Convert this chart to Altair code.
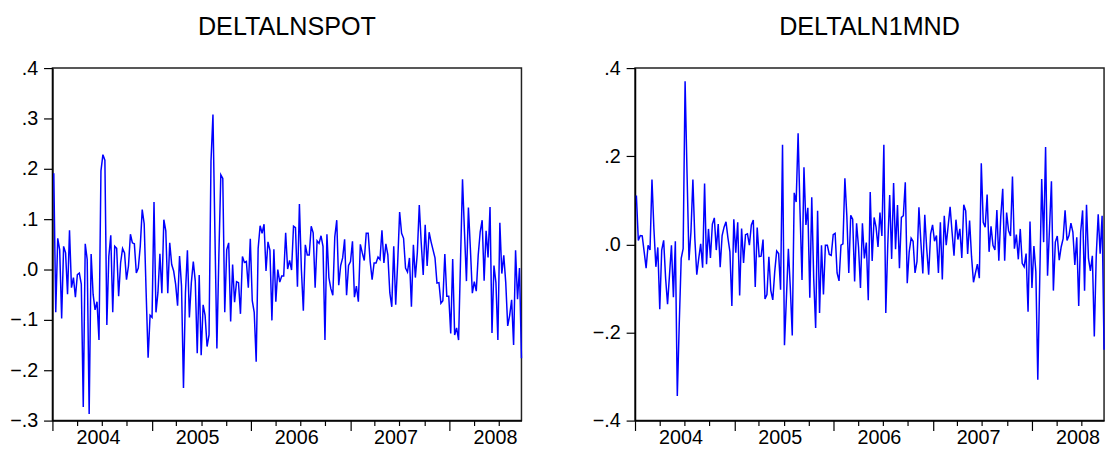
import altair as alt
import pandas as pd

# ---- data (weekly changes) ----
spot = [0.191, -0.085, 0.062, 0.039, -0.097, 0.046, 0.033, -0.049, 0.078, -0.036,
        -0.016, -0.055, -0.010, -0.007, -0.029, -0.273, 0.051, 0.020, -0.287, 0.031,
        -0.049, -0.080, -0.064, -0.140, 0.196, 0.228, 0.217, -0.110, 0.026, 0.068,
        -0.085, 0.046, 0.042, -0.053, 0.013, 0.042, 0.033, -0.020, 0.007, 0.070,
        0.053, 0.051, -0.007, 0.003, 0.046, 0.119, 0.091, -0.046, -0.175, -0.091,
        -0.095, 0.134, -0.085, -0.046, 0.031, -0.047, 0.099, 0.077, -0.047, 0.053,
        0.010, -0.003, -0.029, -0.072, 0.027, -0.033, -0.235, -0.046, 0.038, -0.095,
        -0.026, 0.016, -0.023, -0.166, -0.011, -0.170, -0.070, -0.091, -0.153, -0.130,
        0.215, 0.308, 0.072, -0.157, 0.026, 0.188, 0.181, -0.085, 0.039, 0.053,
        -0.103, 0.010, -0.065, -0.024, -0.026, -0.088, 0.026, 0.014, 0.016, -0.036,
        0.061, -0.062, -0.085, -0.183, 0.042, 0.087, 0.072, 0.090, -0.003, 0.055,
        0.038, -0.101, 0.040, -0.064, 0.000, -0.025, -0.013,
        -0.013, 0.073, 0.001, 0.018, -0.001, 0.086, 0.083, -0.034, 0.130, 0.000,
        -0.082, 0.049, 0.029, 0.029, 0.086, 0.073, -0.036, 0.057, 0.052, 0.067,
        0.046, -0.140, 0.070, -0.016, -0.038, -0.051, 0.065, 0.098, -0.031, 0.008,
        0.023, 0.060, -0.051, 0.008, 0.016, 0.056, -0.055, -0.033, -0.064, 0.050,
        0.033, 0.018, 0.072, 0.072, 0.016, -0.020, 0.013, 0.013, 0.025, 0.020,
        0.078, 0.013, 0.051, 0.029, -0.046, -0.074, 0.046, -0.070, 0.013, 0.114,
        0.072, 0.062, 0.003, -0.005, 0.023, -0.074, 0.049, -0.016, 0.033, 0.128,
        0.052, -0.011, 0.089, 0.007, 0.074, 0.055, 0.039, 0.023, -0.027, -0.026,
        -0.067, -0.062, 0.031, -0.053, -0.053, -0.127, 0.021, -0.130, -0.116, -0.140,
        0.020, 0.179, 0.075, -0.023, 0.123, 0.042, -0.047, -0.024, -0.043, 0.029,
        0.075, 0.098, -0.022, 0.077, 0.024, 0.124, -0.126, 0.008, -0.026, -0.140,
        0.093, -0.008, 0.028, -0.026, -0.112, -0.091, -0.060, -0.150, 0.038, -0.059,
        0.003, -0.176]

mnd = [0.111, 0.009, 0.020, 0.019, -0.017, -0.054, -0.002, -0.013, 0.147, 0.035,
       -0.051, -0.007, -0.147, -0.013, 0.009, -0.077, -0.136, -0.069, -0.002, -0.120,
       0.007, -0.344, -0.181, -0.032, -0.010, 0.370, 0.161, -0.036, 0.028, 0.147,
       0.013, -0.069, -0.032, 0.001, -0.053, 0.138, -0.045, 0.035, -0.031, 0.046,
       0.060, -0.013, 0.046, -0.052, 0.020, 0.039, 0.051, 0.014, -0.017, -0.140,
       0.057, -0.019, 0.050, -0.116, 0.036, -0.042, 0.022, 0.024, -0.002, 0.044,
       0.055, -0.097, 0.038, -0.028, -0.027, 0.011, -0.124, -0.114, -0.028, -0.105,
       -0.126, -0.062, -0.015, -0.021, -0.103, 0.226, -0.229, -0.121, -0.010, -0.099,
       -0.207, 0.117, 0.096, 0.252, 0.072, -0.081, 0.175, 0.044, 0.083, -0.121,
       0.107, -0.077, -0.190, 0.076, -0.156, -0.002, -0.114, -0.002, -0.002, -0.023,
       -0.025, 0.022, 0.025, -0.065, -0.083, -0.002, 0.001, 0.150, 0.065, -0.065,
       0.066, 0.057, -0.084, 0.048, -0.006, -0.099, 0.048, -0.032, 0.004, -0.127,
       0.119, -0.038, 0.061, 0.039, -0.006, 0.072, 0.019, 0.226, -0.156, -0.002,
       0.112, -0.033, 0.139, -0.011, 0.089, -0.054, 0.061, 0.065, 0.141, -0.088,
       -0.017, 0.014, 0.007, -0.065, -0.039, 0.084, 0.005, -0.066, 0.067, -0.010,
       -0.069, 0.024, 0.044, 0.007, 0.020, -0.065, 0.050, -0.080, 0.065, -0.002,
       0.042, 0.085, 0.028, -0.026, 0.056, 0.011, 0.035, -0.031, 0.090, 0.076,
       -0.022, 0.054, -0.028, -0.086, -0.065, -0.045, -0.077, 0.184, 0.050, 0.039,
       0.113, -0.017, 0.041, -0.002, -0.013, 0.078, -0.037, 0.063, 0.126, -0.037,
       0.072, 0.031, 0.019, 0.154, -0.010, 0.022, -0.034, 0.035, -0.043, -0.051,
       -0.021, -0.153, 0.052, -0.099, -0.004, -0.062, -0.307, -0.077, 0.148, 0.005,
       0.221, -0.071, 0.035, 0.143, -0.105, 0.005, 0.019, -0.036, -0.006, 0.013,
       0.077, 0.009, 0.020, 0.048, 0.028, -0.047, 0.016, -0.140, 0.028, 0.077,
       -0.105, 0.090, -0.032, -0.060, -0.026, -0.209, -0.025, 0.068, -0.021, 0.065,
       -0.239]

titles = ["DELTALNSPOT", "DELTALN1MND"]
first_date = "2004-01-06"
last_date = "2008-09-22"
left_ticks = [-0.3, -0.2, -0.1, 0.0, 0.1, 0.2, 0.3, 0.4]
right_ticks = [-0.4, -0.2, 0.0, 0.2, 0.4]
years = [2004, 2005, 2006, 2007, 2008]

FONT = "Liberation Sans"
quarter_vals = [alt.DateTime(year=y, month=m, date=1) for y in years for m in (1, 4, 7, 10)
                if not (y == 2008 and m == 10)]


def panel(values, title, ticks):
    dates = pd.date_range(first_date, last_date, periods=len(values))
    df = pd.DataFrame({"date": dates, "value": values})
    return alt.Chart(df).mark_line(color="#0000FF", strokeWidth=1.5).encode(
        x=alt.X("date:T",
                scale=alt.Scale(domain=[alt.DateTime(year=2004, month=1, date=1),
                                        alt.DateTime(year=2008, month=9, date=22)],
                                nice=False),
                axis=alt.Axis(title=None, values=quarter_vals,
                              labelExpr="month(datum.value) == 6 ? timeFormat(datum.value, '%Y') : ''",
                              tickSize={"condition": {"test": "month(datum.value) == 0", "value": 10},
                                        "value": 5},
                              labelPadding=2, labelOffset=-4, labelFlush=False,
                              labelOverlap=False, minExtent=24, maxExtent=24)),
        y=alt.Y("value:Q",
                scale=alt.Scale(domain=[ticks[0], ticks[-1]], nice=False, zero=False),
                axis=alt.Axis(title=None, values=ticks, tickSize=9, labelPadding=6,
                              minExtent=41, maxExtent=41,
                              labelExpr="replace(format(datum.value, '.1f'), '0.', '.')")),
    ).properties(
        width=475, height=357,
        title=alt.TitleParams(title, font=FONT, fontSize=25.5, fontWeight="normal",
                              color="black", anchor="middle", offset=18),
    )


chart = alt.hconcat(
    panel(spot, titles[0], left_ticks),
    panel(mnd, titles[1], right_ticks),
    spacing=66,
).properties(
    padding={"left": 0, "top": 3, "right": 0, "bottom": 0},
).configure_view(
    stroke="#222222", strokeWidth=1.5,
).configure_axis(
    grid=False, domainColor="black", domainWidth=1.5, tickColor="black", tickWidth=1.2,
    labelFont=FONT, labelFontSize=20, labelColor="black",
)

chart.save("out.html", embed_options={"renderer": "svg", "actions": False})
